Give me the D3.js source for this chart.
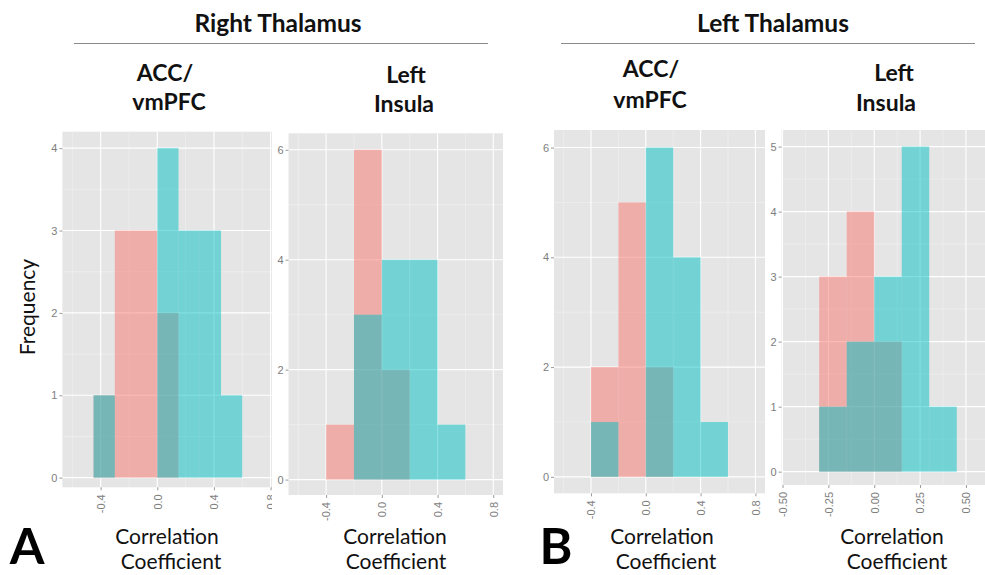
<!DOCTYPE html>
<html>
<head>
<meta charset="utf-8">
<script src="https://cdn.jsdelivr.net/npm/d3@7"></script>
<style>
  html, body { margin: 0; padding: 0; background: #ffffff; }
  svg { display: block; }
</style>
</head>
<body>
<svg id="chart" width="985" height="575"></svg>
<script>
// ---------------- DATA ----------------
// Right Thalamus – ACC/vmPFC
const rtAccBins = [-0.45, -0.30, -0.15, 0.00, 0.15, 0.30, 0.45];
const rtAccRed  = [1, 3, 3, 2, 0, 0, 0];
const rtAccTeal = [1, 0, 0, 4, 3, 3, 1];
// Right Thalamus – Left Insula
const rtInsBins = [-0.4, -0.2, 0.0, 0.2, 0.4];
const rtInsRed  = [1, 6, 2, 0, 0];
const rtInsTeal = [0, 3, 4, 4, 1];
// Left Thalamus – ACC/vmPFC
const ltAccBins = [-0.4, -0.2, 0.0, 0.2, 0.4];
const ltAccRed  = [2, 5, 2, 0, 0];
const ltAccTeal = [1, 0, 6, 4, 1];
// Left Thalamus – Left Insula
const ltInsBins = [-0.30, -0.15, 0.00, 0.15, 0.30];
const ltInsRed  = [3, 4, 2, 0, 0];
const ltInsTeal = [1, 2, 3, 5, 1];

const binWidthA = 0.15;
const binWidthB = 0.2;

// tick values / labels
const xTicksA   = [-0.4, 0.0, 0.4, 0.8];
const xLabelsA  = ["-0.4", "0.0", "0.4", "0.8"];
const xMinorA   = [-0.6, -0.2, 0.2, 0.6];
const xTicksB   = [-0.50, -0.25, 0.00, 0.25, 0.50];
const xLabelsB  = ["-0.50", "-0.25", "0.00", "0.25", "0.50"];
const xMinorB   = [-0.375, -0.125, 0.125, 0.375];
const yTicks4   = [0, 1, 2, 3, 4];
const yMinor4   = [0.5, 1.5, 2.5, 3.5];
const yTicks6   = [0, 2, 4, 6];
const yMinor6   = [1, 3, 5];
const yTicks5   = [0, 1, 2, 3, 4, 5];
const yMinor5   = [0.5, 1.5, 2.5, 3.5, 4.5];

const groupTitles = ["Right Thalamus", "Left Thalamus"];
const regionLines = [["ACC/", "vmPFC"], ["Left", "Insula"], ["ACC/", "vmPFC"], ["Left", "Insula"]];
const xTitleLines = ["Correlation", "Coefficient"];
const yTitle = "Frequency";
const panelLetters = ["A", "B"];

// ---------------- LAYOUT ----------------
const panels = [
  { bins: rtAccBins, red: rtAccRed, teal: rtAccTeal, bw: binWidthA,
    xd: [-0.67, 0.87], xr: [62.4, 280.5], yd: [-0.117, 4.2], yr: [487.3, 131.7],
    clip: [0, 272], xt: xTicksA, xl: xLabelsA, xm: xMinorA, yt: yTicks4, ym: yMinor4,
    region: { x: [165, 169], y: [81, 110] }, xt2: { x: [167, 171] } },
  { bins: rtInsBins, red: rtInsRed, teal: rtInsTeal, bw: binWidthB,
    xd: [-0.67, 0.87], xr: [288.5, 503], yd: [-0.28, 6.3], yr: [495, 133.3],
    clip: [272, 520], xt: xTicksA, xl: xLabelsA, xm: xMinorA, yt: yTicks6, ym: yMinor6,
    region: { x: [406, 404], y: [83, 112] }, xt2: { x: [395, 396] } },
  { bins: ltAccBins, red: ltAccRed, teal: ltAccTeal, bw: binWidthB,
    xd: [-0.67, 0.87], xr: [554, 765], yd: [-0.30, 6.32], yr: [493.3, 130],
    clip: [520, 766], xt: xTicksA, xl: xLabelsA, xm: xMinorA, yt: yTicks6, ym: yMinor6,
    region: { x: [651, 650], y: [77, 108] }, xt2: { x: [662, 666] } },
  { bins: ltInsBins, red: ltInsRed, teal: ltInsTeal, bw: binWidthA,
    xd: [-0.505, 0.61], xr: [781.6, 986.1], yd: [-0.205, 5.255], yr: [485, 130],
    clip: [766, 985], xt: xTicksB, xl: xLabelsB, xm: xMinorB, yt: yTicks5, ym: yMinor5,
    region: { x: [894, 886], y: [81, 111] }, xt2: { x: [892, 897] } }
];

const RED = "#F8766D", TEAL = "#00BFC4", PANEL_BG = "#E5E5E5";
const FONT = "Lato, 'Open Sans', sans-serif";
const AXFONT = "'Liberation Sans', Arial, sans-serif";

const svg = d3.select("#chart");
const defs = svg.append("defs");

panels.forEach((p, i) => {
  const x = d3.scaleLinear().domain(p.xd).range(p.xr);
  const y = d3.scaleLinear().domain(p.yd).range(p.yr);

  defs.append("clipPath").attr("id", "clip" + i)
    .append("rect").attr("x", p.clip[0]).attr("y", 0)
    .attr("width", p.clip[1] - p.clip[0]).attr("height", 575);

  const g = svg.append("g").attr("clip-path", `url(#clip${i})`);
  // white backing (covers neighbour)
  g.append("rect").attr("x", p.clip[0]).attr("y", 120)
    .attr("width", p.clip[1] - p.clip[0]).attr("height", 405).attr("fill", "#fff");

  // panel background
  g.append("rect")
    .attr("x", x(p.xd[0])).attr("y", y(p.yd[1]))
    .attr("width", x(p.xd[1]) - x(p.xd[0]))
    .attr("height", y(p.yd[0]) - y(p.yd[1]))
    .attr("fill", PANEL_BG);

  const grid = g.append("g");
  // minor grid
  grid.selectAll(".vmin").data(p.xm).join("line")
    .attr("x1", d => x(d)).attr("x2", d => x(d))
    .attr("y1", y(p.yd[0])).attr("y2", y(p.yd[1]))
    .attr("stroke", "#F2F2F2").attr("stroke-width", 0.6);
  grid.selectAll(".hmin").data(p.ym).join("line")
    .attr("y1", d => y(d)).attr("y2", d => y(d))
    .attr("x1", x(p.xd[0])).attr("x2", x(p.xd[1]))
    .attr("stroke", "#F2F2F2").attr("stroke-width", 0.6);
  // major grid
  grid.selectAll(".vmaj").data(p.xt).join("line")
    .attr("x1", d => x(d)).attr("x2", d => x(d))
    .attr("y1", y(p.yd[0])).attr("y2", y(p.yd[1]))
    .attr("stroke", "#FFFFFF").attr("stroke-width", 1.1);
  grid.selectAll(".hmaj").data(p.yt).join("line")
    .attr("y1", d => y(d)).attr("y2", d => y(d))
    .attr("x1", x(p.xd[0])).attr("x2", x(p.xd[1]))
    .attr("stroke", "#FFFFFF").attr("stroke-width", 1.1);

  // bars: red first, then teal (alpha overlay)
  const series = [{ vals: p.red, col: RED }, { vals: p.teal, col: TEAL }];
  series.forEach(s => {
    g.append("g").selectAll("rect")
      .data(p.bins.map((b, k) => ({ x0: b, x1: b + p.bw, n: s.vals[k] })).filter(d => d.n > 0))
      .join("rect")
      .attr("x", d => x(d.x0))
      .attr("width", d => x(d.x1) - x(d.x0))
      .attr("y", d => y(d.n))
      .attr("height", d => y(0) - y(d.n))
      .attr("fill", s.col).attr("fill-opacity", 0.5);
  });

  // axes
  const yAxis = d3.axisLeft(y).tickValues(p.yt).tickSize(3).tickPadding(2)
    .tickFormat(d3.format("d"));
  const ya = g.append("g").attr("transform", `translate(${x(p.xd[0])},0)`).call(yAxis);
  const xAxis = d3.axisBottom(x).tickValues(p.xt).tickSize(3)
    .tickFormat((d, k) => p.xl[k]);
  const xa = g.append("g").attr("transform", `translate(0,${y(p.yd[0])})`).call(xAxis);
  xa.selectAll("text")
    .attr("transform", "rotate(-90)")
    .attr("x", -7).attr("y", 0).attr("dy", "0.35em")
    .style("text-anchor", "end");
  [ya, xa].forEach(a => {
    a.select(".domain").remove();
    a.selectAll(".tick line").attr("stroke", "#9a9a9a");
    a.selectAll("text").attr("fill", "#7d7d7d")
      .style("font-family", AXFONT).style("font-size", "11px");
  });

  // region titles
  regionLines[i].forEach((t, k) => {
    svg.append("text").text(t)
      .attr("x", p.region.x[k]).attr("y", p.region.y[k])
      .attr("text-anchor", "middle")
      .style("font-family", FONT).style("font-weight", "700")
      .style("font-size", "23px").attr("fill", "#111");
  });
  // x titles
  xTitleLines.forEach((t, k) => {
    svg.append("text").text(t)
      .attr("x", p.xt2.x[k]).attr("y", k === 0 ? 544 : 569)
      .attr("text-anchor", "middle")
      .style("font-family", FONT).style("font-size", "21px").attr("fill", "#111");
  });
});

// group titles and rules
const groups = [
  { cx: 278, line: [74, 488] },
  { cx: 773, line: [561, 975] }
];
groups.forEach((gp, i) => {
  svg.append("text").text(groupTitles[i])
    .attr("x", gp.cx).attr("y", 32).attr("text-anchor", "middle")
    .style("font-family", FONT).style("font-weight", "700")
    .style("font-size", "24.5px").attr("fill", "#111");
  svg.append("line")
    .attr("x1", gp.line[0]).attr("x2", gp.line[1])
    .attr("y1", 43.5).attr("y2", 43.5)
    .attr("stroke", "#8a8a8a").attr("stroke-width", 1.2);
});

// y title
svg.append("text").text(yTitle)
  .attr("transform", "translate(35,307) rotate(-90)")
  .attr("text-anchor", "middle")
  .style("font-family", FONT).style("font-size", "21px").attr("fill", "#111");

// panel letters
[{ x: 27, y: 564 }, { x: 556, y: 564 }].forEach((pos, i) => {
  svg.append("text").text(panelLetters[i])
    .attr("x", pos.x).attr("y", pos.y).attr("text-anchor", "middle")
    .style("font-family", FONT).style("font-weight", "700")
    .style("font-size", "50px").attr("fill", "#000");
});
</script>
</body>
</html>
